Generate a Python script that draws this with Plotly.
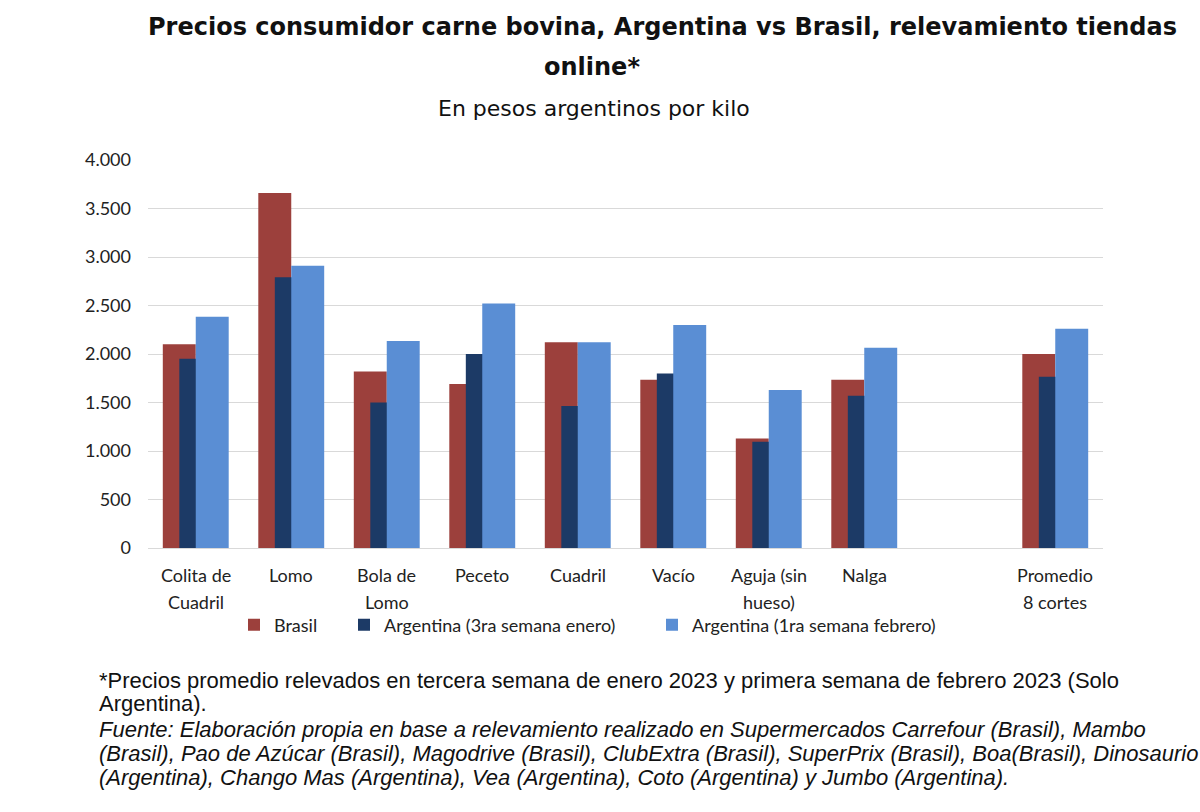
import plotly.graph_objects as go

categories = ["Colita de\nCuadril", "Lomo", "Bola de\nLomo", "Peceto", "Cuadril",
              "Vacío", "Aguja (sin\nhueso)", "Nalga", " ", "Promedio\n8 cortes"]
brasil = [2100, 3660, 1820, 1690, 2120, 1735, 1130, 1735, None, 2000]
arg_enero = [1950, 2790, 1500, 2000, 1465, 1800, 1095, 1570, None, 1765]
arg_febrero = [2385, 2910, 2135, 2520, 2120, 2300, 1630, 2065, None, 2260]

# plot area in pixels
L, R, T, B = 148, 1103, 160, 548
W, H = R - L, B - T


def px_x(x):
    return (x - L) / W


def px_y(y):
    return (B - y) / H


series = [
    ("Brasil", brasil, "#9C403C", -0.345, "legend", 234),
    ("Argentina (3ra semana enero)", arg_enero, "#1C3A66", -0.172, "legend2", 344),
    ("Argentina (1ra semana febrero)", arg_febrero, "#5A8ED4", 0.0, "legend3", 652),
]

label_font = dict(family="Lato, Open Sans, sans-serif", size=18, color="#222222")

fig = go.Figure()
legends = {}
for name, vals, color, off, leg, lx in series:
    fig.add_trace(go.Bar(
        x=categories, y=vals, name=name, marker=dict(color=color, line=dict(width=0)),
        width=0.345, offset=off, legend=leg,
    ))
    legends[leg] = dict(orientation="h", x=px_x(lx), xanchor="left", y=px_y(625),
                        yanchor="middle", font=label_font, itemwidth=30,
                        bgcolor="rgba(0,0,0,0)")

annotations = []
for c in categories:
    for i, line in enumerate(c.split("\n")):
        annotations.append(dict(x=c, y=0, xref="x", yref="y", text=line, showarrow=False,
                                yanchor="middle", yshift=-27 - 27 * i, font=label_font))

title_font = dict(family="DejaVu Sans, Liberation Sans, sans-serif", size=24, color="#111111")
sub_font = dict(family="DejaVu Sans, Liberation Sans, sans-serif", size=22, color="#111111")
headers = [
    ("<b>Precios consumidor carne bovina, Argentina vs Brasil, relevamiento tiendas</b>", 662, 27, title_font),
    ("<b>online*</b>", 592, 67, title_font),
    ("En pesos argentinos por kilo", 594, 108, sub_font),
]
for text, x, y, f in headers:
    annotations.append(dict(x=px_x(x), y=px_y(y), xref="paper", yref="paper", text=text,
                            showarrow=False, xanchor="center", yanchor="middle", font=f))

foot_font = dict(family="Liberation Sans, Arial, sans-serif", size=22, color="#111111")
foot_lines = [
    ("*Precios promedio relevados en tercera semana de enero 2023 y primera semana de febrero 2023 (Solo", False, 680),
    ("Argentina).", False, 703),
    ("Fuente: Elaboración propia en base a relevamiento realizado en Supermercados Carrefour (Brasil), Mambo", True, 729),
    ("(Brasil), Pao de Azúcar (Brasil), Magodrive (Brasil), ClubExtra (Brasil), SuperPrix (Brasil), Boa(Brasil), Dinosaurio", True, 753),
    ("(Argentina), Chango Mas (Argentina), Vea (Argentina), Coto (Argentina) y Jumbo (Argentina).", True, 777),
]
for text, ital, ypx in foot_lines:
    annotations.append(dict(x=px_x(97), y=px_y(ypx), xref="paper", yref="paper",
                            text=f"<i>{text}</i>" if ital else text, showarrow=False,
                            xanchor="left", yanchor="middle", font=foot_font))

fig.update_layout(
    width=1200, height=812,
    margin=dict(l=L, r=1200 - R, t=T, b=812 - B),
    paper_bgcolor="white", plot_bgcolor="white",
    barmode="overlay",
    separators=",.",
    showlegend=True,
    xaxis=dict(showticklabels=False, showgrid=False, showline=False, ticks="",
               categoryorder="array", categoryarray=categories, range=[-0.5, 9.5]),
    yaxis=dict(range=[0, 4000], dtick=500, tickformat=",d", showgrid=True,
               gridcolor="#D9D9D9", gridwidth=1.3, zeroline=True, zerolinecolor="#D9D9D9",
               zerolinewidth=1.3, showline=False, tickfont=label_font, ticks="",
               ticklabelstandoff=16),
    annotations=annotations,
    **legends,
)

fig.write_html("out.html")
